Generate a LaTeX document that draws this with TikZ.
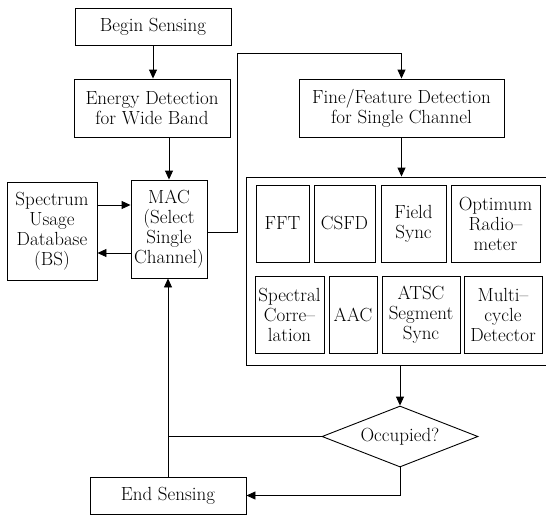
\documentclass[tikz,border=0pt]{standalone}
\usetikzlibrary{shapes.geometric,arrows.meta}

\begin{document}
\begin{tikzpicture}[x=1pt,y=-1pt,
  txt/.style={font=\fontsize{19}{20}\selectfont},
  box/.style={draw,line width=0.9pt,inner sep=0pt,align=center,txt},
  flow/.style={line width=0.9pt,-{Triangle[length=9pt,width=8pt]}},
  link/.style={line width=0.9pt}]
\useasboundingbox (0,0) rectangle (546,515);

% main flow boxes
\node[box,minimum width=156pt,minimum height=37pt] (begin) at (153,26.5) {Begin Sensing};
\node[box,minimum width=156pt,minimum height=58pt] (energy) at (152,108) {Energy Detection\\for Wide Band};
\node[box,minimum width=76pt,minimum height=98pt] (mac) at (169,229) {MAC\\(Select\\Single\\Channel)};
\node[box,minimum width=90pt,minimum height=98pt] (spec) at (52,231) {Spectrum\\Usage\\Database\\(BS)};
\node[box,minimum width=205pt,minimum height=58pt] (fine) at (401.5,108) {Fine/Feature Detection\\for Single Channel};

% detector bank (runs off the right edge)
\node[box,minimum width=306pt,minimum height=188pt] (bank) at (399,271) {};
\node[box,minimum width=53pt,minimum height=77pt] (fft) at (282.5,223.5) {FFT};
\node[box,minimum width=61pt,minimum height=77pt] (csfd) at (344.5,223.5) {CSFD};
\node[box,minimum width=65pt,minimum height=77pt] (field) at (413.5,223.5) {Field\\Sync};
\node[box,minimum width=89pt,minimum height=77pt] (optim) at (495.5,223.5) {Optimum\\Radio--\\meter};
\node[box,minimum width=69pt,minimum height=77pt] (spcor) at (289.5,314.5) {Spectral\\Corre--\\lation};
\node[box,minimum width=48pt,minimum height=77pt] (aac) at (353,314.5) {AAC};
\node[box,minimum width=78pt,minimum height=77pt] (atsc) at (421,314.5) {ATSC\\Segment\\Sync};
\node[box,minimum width=78pt,minimum height=77pt] (multi) at (503,314.5) {Multi--\\cycle\\Detector};

% decision and end
\node[draw,diamond,aspect=2.56,inner sep=0pt,minimum width=156pt,minimum height=61pt,line width=0.9pt,txt] (occ) at (400,436.5) {Occupied?};
\node[box,minimum width=156pt,minimum height=37pt] (endbox) at (168,495.5) {End Sensing};

% connectors
\draw[flow] (begin.south) -- (begin.south |- energy.north);
\draw[flow] (mac.north |- energy.south) -- (mac.north);
\coordinate (inA) at ([yshift=24pt]mac.west);
\coordinate (outA) at ([yshift=-24pt]mac.west);
\draw[flow] (inA -| spec.east) -- (inA);
\draw[flow] (outA) -- (outA -| spec.east);
\coordinate (macout) at ([yshift=-3pt]mac.east);
\coordinate (r1) at (237,53);
\draw[flow] (macout) -| (r1) -| (fine.north);
\draw[flow] (fine.south) -- (fine.south |- bank.north);
\draw[flow] (bank.south -| occ.north) -- (occ.north);
\draw[link] (occ.west) -- (occ.west -| endbox.north);
\draw[flow] (endbox.north) -- (endbox.north |- mac.south);
\draw[flow] (occ.south) |- (endbox.east);
\end{tikzpicture}
\end{document}
